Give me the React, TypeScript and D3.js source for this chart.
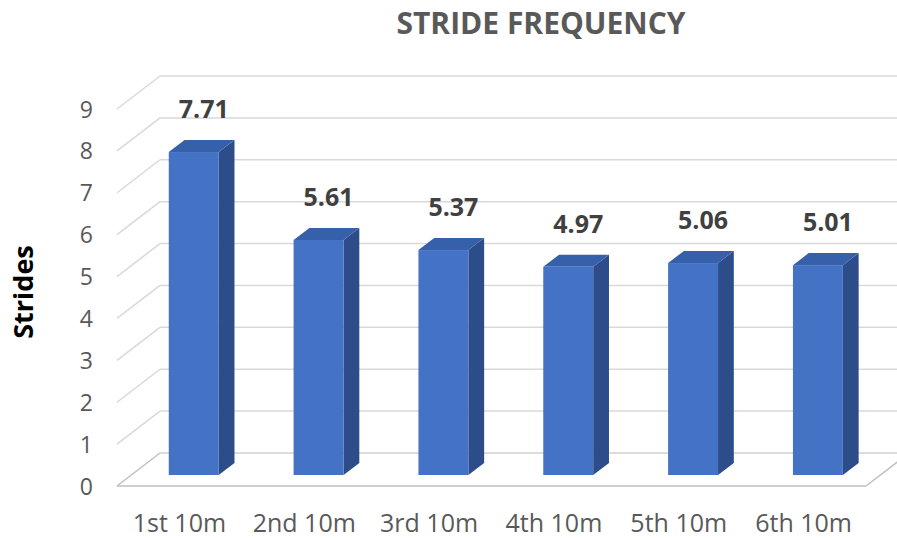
import React from "react";
import * as d3 from "d3";

const categories = ["1st 10m", "2nd 10m", "3rd 10m", "4th 10m", "5th 10m", "6th 10m"];
const values = [7.71, 5.61, 5.37, 4.97, 5.06, 5.01];
const yTicks = [0, 1, 2, 3, 4, 5, 6, 7, 8, 9];
const title = "STRIDE FREQUENCY";
const yTitle = "Strides";

const W = 897, H = 538;
const floorLeft = 117, floorRight = 866, floorY = 486;
const depthX = 43, depthY = -33;
const barF0 = 0.333, barF1 = 0.70;

export default function App() {
  const x = d3.scaleBand<string>().domain(categories).range([floorLeft, floorRight]).paddingInner(0.6).paddingOuter(0.3);
  const xc = d3.scaleBand<string>().domain(categories).range([floorLeft, floorRight]);
  const h = d3.scaleLinear().domain([0, 9]).range([0, 377]);
  const grid = "#d9d9d9";
  const pt = (px: number, py: number) => `${px},${py}`;

  return (
    <svg width={W} height={H} style={{ position: "absolute", left: 0, top: 0, display: "block" }} fontFamily="'Open Sans', sans-serif">
      <rect width={W} height={H} fill="#fff" />
      <text x={541} y={34} textAnchor="middle" fontSize={30} fontWeight={700} fill="#595959">{title}</text>
      {/* gridlines */}
      {yTicks.map((t) => {
        const yf = floorY - h(t);
        const yb = yf + depthY;
        return (
          <g key={t}>
            <line x1={floorLeft} y1={yf} x2={floorLeft + depthX} y2={yb} stroke={t === 0 ? "#bfbfbf" : grid} strokeWidth={1.5} />
            <line x1={floorLeft + depthX} y1={yb} x2={floorRight + depthX} y2={yb} stroke={t === 0 ? "#d0d0d0" : grid} strokeWidth={1.5} />
            <text x={93} y={yf + 8.5} textAnchor="end" fontSize={23} fill="#595959">{t}</text>
          </g>
        );
      })}
      {/* floor front */}
      <line x1={floorLeft} y1={floorY} x2={floorRight} y2={floorY} stroke="#bfbfbf" strokeWidth={1.5} />
      <line x1={floorRight} y1={floorY} x2={floorRight + depthX} y2={floorY + depthY} stroke="#bfbfbf" strokeWidth={1.5} />
      {/* bars */}
      {categories.map((c, i) => {
        const v = values[i];
        const x0 = (x(c) as number) + barF0 * depthX;
        const bw = x.bandwidth();
        const dx = (barF1 - barF0) * depthX;
        const dy = (barF1 - barF0) * depthY;
        const yb = floorY + barF0 * depthY;
        const yt = yb - h(v);
        return (
          <g key={c}>
            <polygon points={[pt(x0 + bw, yt), pt(x0 + bw + dx, yt + dy), pt(x0 + bw + dx, yb + dy), pt(x0 + bw, yb)].join(" ")} fill="#2c4d8a" />
            <polygon points={[pt(x0, yt), pt(x0 + dx, yt + dy), pt(x0 + bw + dx, yt + dy), pt(x0 + bw, yt)].join(" ")} fill="#3760aa" />
            <rect x={x0} y={yt} width={bw} height={h(v)} fill="#4472c4" />
            <text x={x0 + bw / 2 + 10} y={yt + dy - 22} textAnchor="middle" fontSize={25} fontWeight={700} fill="#404040">{v.toFixed(2)}</text>
          </g>
        );
      })}
      {categories.map((c) => (
        <text key={c} x={(xc(c) as number) + xc.bandwidth() / 2} y={532} textAnchor="middle" fontSize={25} fill="#595959">{c}</text>
      ))}
      <text transform={`translate(33,292) rotate(-90)`} textAnchor="middle" fontSize={27} fontWeight={700} fill="#000">{yTitle}</text>
    </svg>
  );
}
